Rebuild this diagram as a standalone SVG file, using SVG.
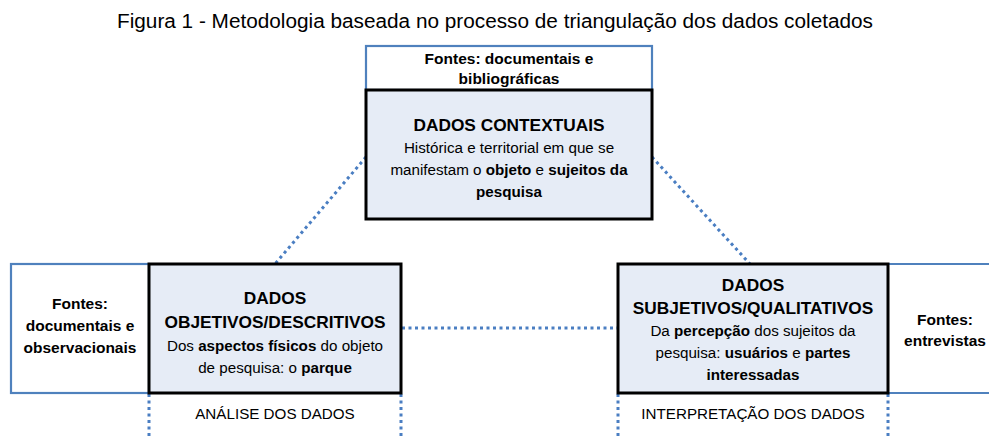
<svg xmlns="http://www.w3.org/2000/svg" width="989" height="436" viewBox="0 0 989 436">
<style>
text{font-family:"Liberation Sans",Arial,sans-serif;fill:#000;text-anchor:middle}
.t{font-size:20px}
.h{font-size:17.3px;font-weight:bold}
.b{font-size:15.2px}
.f{font-size:15.5px;font-weight:bold}
.bb{font-weight:bold}
.main{fill:#E6ECF6;stroke:#000;stroke-width:3}
.src{fill:#fff;stroke:#4F81BD;stroke-width:2.2}
.dot{fill:none;stroke:#4A7EC2;stroke-width:3;stroke-dasharray:3 3.5}
</style>
<rect width="989" height="436" fill="#fff"/>
<text class="t" x="495" y="28" textLength="756" lengthAdjust="spacingAndGlyphs">Figura 1 - Metodologia baseada no processo de triangulação dos dados coletados</text>
<g id="connectors">
<line class="dot" x1="366" y1="157" x2="275" y2="264"/>
<line class="dot" x1="652" y1="157" x2="750" y2="264"/>
<line class="dot" x1="402" y1="328" x2="618" y2="328"/>
<line class="dot" x1="149" y1="394" x2="149" y2="436"/>
<line class="dot" x1="401" y1="394" x2="401" y2="436"/>
<line class="dot" x1="618" y1="394" x2="618" y2="436"/>
<line class="dot" x1="888" y1="394" x2="888" y2="436"/>
</g>
<g id="fontes-top">
<rect class="src" x="366" y="46" width="286" height="44"/>
<text class="f" x="509" y="64">Fontes: documentais e</text>
<text class="f" x="509" y="84">bibliográficas</text>
</g>
<g id="contextuais">
<rect class="main" x="366" y="90" width="286" height="129"/>
<text class="h" x="509" y="131">DADOS CONTEXTUAIS</text>
<text class="b" x="509" y="153">Histórica e territorial em que se</text>
<text class="b" x="509" y="175">manifestam o <tspan class="bb">objeto</tspan> e <tspan class="bb">sujeitos da</tspan></text>
<text class="b bb" x="509" y="197">pesquisa</text>
</g>
<g id="fontes-left">
<rect class="src" x="11" y="264" width="138" height="129"/>
<text class="f" x="80" y="309">Fontes:</text>
<text class="f" x="80" y="331">documentais e</text>
<text class="f" x="80" y="353">observacionais</text>
</g>
<g id="objetivos">
<rect class="main" x="149" y="264" width="252" height="129"/>
<text class="h" x="275" y="304">DADOS</text>
<text class="h" x="275" y="328">OBJETIVOS/DESCRITIVOS</text>
<text class="b" x="275" y="351">Dos <tspan class="bb">aspectos físicos</tspan> do objeto</text>
<text class="b" x="275" y="373">de pesquisa: o <tspan class="bb">parque</tspan></text>
<text class="b" x="275" y="419">ANÁLISE DOS DADOS</text>
</g>
<g id="fontes-right">
<path class="src" d="M888 264 H992 V393 H888"/>
<text class="f" x="945" y="325">Fontes:</text>
<text class="f" x="945" y="346">entrevistas</text>
</g>
<g id="subjetivos">
<rect class="main" x="618" y="264" width="270" height="129"/>
<text class="h" x="753" y="291">DADOS</text>
<text class="h" x="753" y="314">SUBJETIVOS/QUALITATIVOS</text>
<text class="b" x="753" y="336">Da <tspan class="bb">percepção</tspan> dos sujeitos da</text>
<text class="b" x="753" y="358">pesquisa: <tspan class="bb">usuários</tspan> e <tspan class="bb">partes</tspan></text>
<text class="b bb" x="753" y="380">interessadas</text>
<text class="b" x="753" y="419">INTERPRETAÇÃO DOS DADOS</text>
</g>
</svg>
